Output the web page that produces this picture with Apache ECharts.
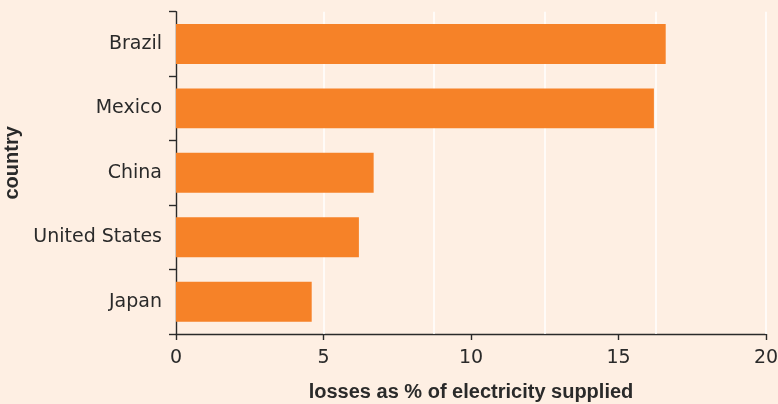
<!DOCTYPE html>
<html>
<head>
<meta charset="utf-8">
<script src="https://cdn.jsdelivr.net/npm/echarts@6/dist/echarts.min.js"></script>
<style>
html,body{margin:0;padding:0;background:#FEEFE3;}
#c{width:778px;height:404px;}
</style>
</head>
<body>
<div id="c"></div>
<script>
const countries = ['Brazil', 'Mexico', 'China', 'United States', 'Japan'];
const losses = [16.6, 16.2, 6.7, 6.2, 4.6];
const xTicks = [0, 5, 10, 15, 20];
const gridLineValues = [5, 8.75, 12.5, 16.25, 20];
const xName = 'losses as % of electricity supplied';
const yName = 'country';

const chart = echarts.init(document.getElementById('c'), null, {renderer: 'canvas'});
const font = 'DejaVu Sans';
const boldFont = 'Liberation Sans';
const ink = '#2a2a2a';
chart.setOption({
  backgroundColor: '#FEEFE3',
  animation: false,
  grid: {left: 176, right: 12, top: 11.7, bottom: 70, containLabel: false, outerBoundsMode: 'none'},
  xAxis: {
    type: 'value', min: xTicks[0], max: xTicks[xTicks.length - 1], interval: 5,
    name: xName, nameLocation: 'middle', nameGap: 48,
    nameTextStyle: {fontFamily: boldFont, fontWeight: 'bold', fontSize: 20, color: ink},
    axisLine: {show: true, lineStyle: {color: ink, width: 1.4}},
    axisTick: {show: true, length: 6, lineStyle: {color: ink, width: 1.4}},
    axisLabel: {fontFamily: font, fontSize: 19, color: ink, margin: 15},
    splitLine: {show: false}
  },
  yAxis: {
    type: 'category', data: countries, inverse: true,
    name: yName, nameLocation: 'middle', nameGap: 154, nameRotate: 90,
    nameTextStyle: {fontFamily: boldFont, fontWeight: 'bold', fontSize: 20, color: ink, padding: [0, 0, 0, 20]},
    axisLine: {show: true, lineStyle: {color: ink, width: 1.4}},
    axisTick: {show: true, length: 7, alignWithLabel: false, lineStyle: {color: ink, width: 1.4}},
    axisLabel: {fontFamily: font, fontSize: 19, color: ink, margin: 14}
  },
  series: [{
    type: 'bar', data: losses, barWidth: '62%', z: 3,
    itemStyle: {color: '#F68228'},
    markLine: {
      silent: true, symbol: 'none', z: 1, label: {show: false},
      lineStyle: {color: '#ffffff', width: 1.5, type: 'solid'},
      data: gridLineValues.map(v => ({xAxis: v}))
    }
  }]
});
</script>
</body>
</html>
